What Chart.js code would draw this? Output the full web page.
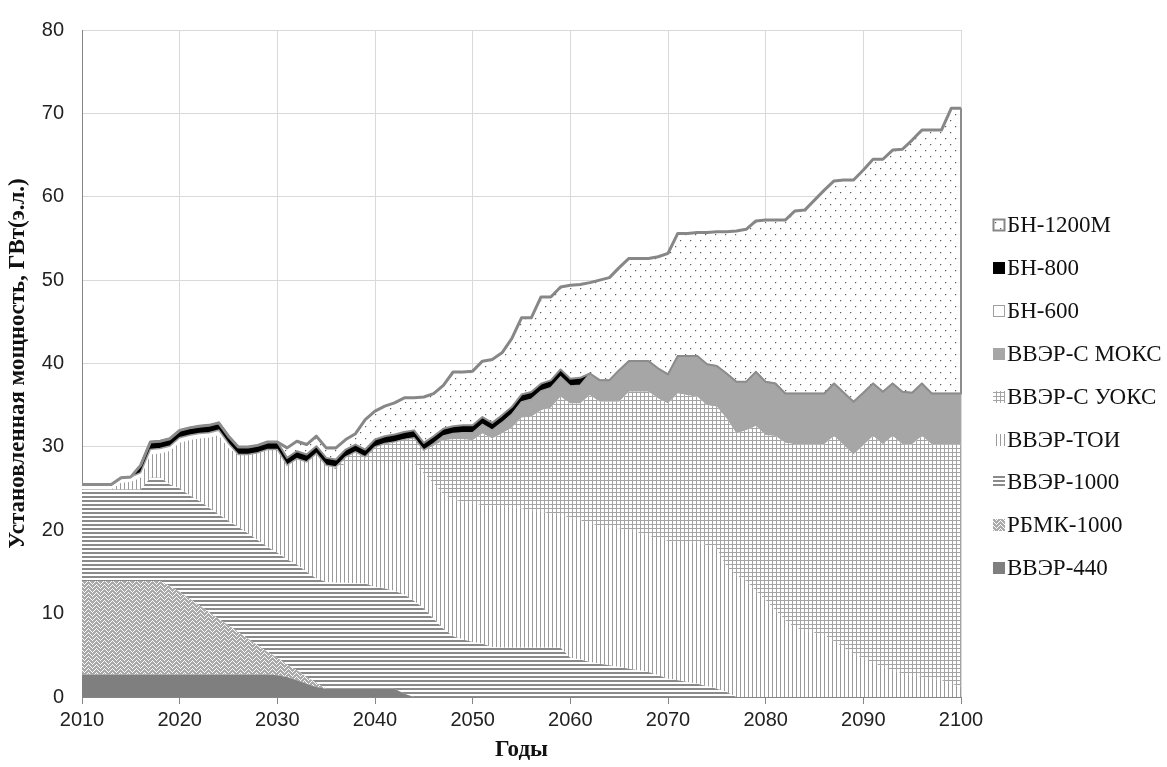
<!DOCTYPE html>
<html lang="ru">
<head>
<meta charset="utf-8">
<title>Установленная мощность АЭС, 2010–2100</title>
<script src="https://cdn.jsdelivr.net/npm/chart.js@4.4.1/dist/chart.umd.min.js"></script>
<style>
  html, body { margin: 0; padding: 0; background: #ffffff; }
  canvas { display: block; }
</style>
</head>
<body>
<canvas id="chart" width="1167" height="767"></canvas>
<script>
// Годы расчётного периода
const years = [
  2010, 2011, 2012, 2013, 2014, 2015, 2016, 2017, 2018, 2019,
  2020, 2021, 2022, 2023, 2024, 2025, 2026, 2027, 2028, 2029,
  2030, 2031, 2032, 2033, 2034, 2035, 2036, 2037, 2038, 2039,
  2040, 2041, 2042, 2043, 2044, 2045, 2046, 2047, 2048, 2049,
  2050, 2051, 2052, 2053, 2054, 2055, 2056, 2057, 2058, 2059,
  2060, 2061, 2062, 2063, 2064, 2065, 2066, 2067, 2068, 2069,
  2070, 2071, 2072, 2073, 2074, 2075, 2076, 2077, 2078, 2079,
  2080, 2081, 2082, 2083, 2084, 2085, 2086, 2087, 2088, 2089,
  2090, 2091, 2092, 2093, 2094, 2095, 2096, 2097, 2098, 2099,
  2100
];

// Установленная мощность по типам реакторов, ГВт(э)
const vver440 = [
  2.7, 2.7, 2.7, 2.7, 2.7, 2.7, 2.7, 2.7, 2.7, 2.7,
  2.7, 2.7, 2.7, 2.7, 2.7, 2.7, 2.7, 2.7, 2.7, 2.7,
  2.6, 2.4, 2.0, 1.6, 1.2, 1.0, 1.0, 1.0, 1.0, 1.0,
  1.0, 1.0, 1.0, 0.4, 0, 0, 0, 0, 0, 0,
  0, 0, 0, 0, 0, 0, 0, 0, 0, 0,
  0, 0, 0, 0, 0, 0, 0, 0, 0, 0,
  0, 0, 0, 0, 0, 0, 0, 0, 0, 0,
  0, 0, 0, 0, 0, 0, 0, 0, 0, 0,
  0, 0, 0, 0, 0, 0, 0, 0, 0, 0,
  0
];
const rbmk1000 = [
  11.2, 11.2, 11.2, 11.2, 11.2, 11.2, 11.2, 11.2, 11.2, 10.6,
  9.9, 9.1, 8.3, 7.5, 6.7, 5.9, 5.1, 4.3, 3.5, 2.7,
  2.1, 1.5, 1.2, 0.8, 0.5, 0, 0, 0, 0, 0,
  0, 0, 0, 0, 0, 0, 0, 0, 0, 0,
  0, 0, 0, 0, 0, 0, 0, 0, 0, 0,
  0, 0, 0, 0, 0, 0, 0, 0, 0, 0,
  0, 0, 0, 0, 0, 0, 0, 0, 0, 0,
  0, 0, 0, 0, 0, 0, 0, 0, 0, 0,
  0, 0, 0, 0, 0, 0, 0, 0, 0, 0,
  0
];
const vver1000 = [
  11.0, 11.0, 11.0, 11.0, 11.0, 11.0, 11.0, 12.4, 12.4, 12.2,
  12.4, 12.4, 12.5, 12.5, 12.5, 12.5, 12.6, 12.6, 12.6, 12.6,
  12.6, 12.6, 12.7, 12.6, 12.5, 12.8, 12.7, 12.7, 12.6, 12.6,
  12.2, 12.0, 11.7, 11.9, 11.5, 10.6, 9.4, 8.2, 7.3, 6.9,
  6.6, 6.4, 6.0, 5.9, 5.9, 5.9, 5.9, 5.9, 5.9, 5.9,
  4.7, 4.5, 4.2, 4.0, 3.8, 3.6, 3.4, 3.2, 3.0, 2.6,
  2.2, 2.0, 1.8, 1.6, 1.3, 1.0, 0.6, 0, 0, 0,
  0, 0, 0, 0, 0, 0, 0, 0, 0, 0,
  0, 0, 0, 0, 0, 0, 0, 0, 0, 0,
  0
];
const vverToi = [
  0, 0, 0, 0, 0.8, 0.9, 1.4, 2.8, 2.9, 4.0,
  5.5, 6.6, 7.5, 8.4, 9.5, 8.7, 8.7, 9.5, 10.5, 11.7,
  12.4, 11.3, 12.7, 13.2, 15.0, 14.0, 13.6, 14.3, 14.6, 14.6,
  15.1, 15.3, 15.6, 15.9, 16.5, 16.2, 16.2, 16.1, 16.4, 16.5,
  16.6, 16.6, 17.0, 17.0, 16.9, 16.7, 16.5, 16.3, 16.1, 15.9,
  16.8, 16.7, 16.6, 16.5, 16.5, 16.6, 16.6, 16.5, 16.3, 16.4,
  16.5, 16.6, 16.8, 16.9, 16.9, 16.8, 15.0, 14.6, 13.9, 12.7,
  11.6, 10.4, 9.2, 8.3, 8.0, 7.7, 7.4, 6.7, 5.9, 5.2,
  4.6, 4.1, 3.6, 3.2, 2.8, 2.6, 2.4, 2.2, 2.0, 1.6,
  1.2
];
const vverUoks = [
  0, 0, 0, 0, 0, 0, 0, 0, 0, 0,
  0, 0, 0, 0, 0, 0, 0, 0, 0, 0,
  0, 0, 0, 0, 0, 0, 0.3, 0.8, 1.2, 0.6,
  1.7, 2.1, 2.3, 2.7, 3.1, 2.8, 4.5, 6.5, 7.2, 7.5,
  7.6, 8.6, 8.0, 8.7, 9.5, 10.9, 11.2, 12.2, 12.7, 14.2,
  13.7, 14.0, 15.4, 14.9, 15.1, 15.2, 16.6, 16.9, 17.3, 16.8,
  16.5, 17.8, 17.6, 17.5, 16.8, 17.0, 17.8, 17.0, 18.1, 19.8,
  19.8, 20.9, 21.3, 22.0, 22.3, 22.6, 22.9, 24.6, 24.3, 23.9,
  25.6, 27.2, 26.7, 28.1, 27.5, 27.7, 28.9, 28.1, 28.3, 28.7,
  29.1
];
const vverMoks = [
  0, 0, 0, 0, 0, 0, 0, 0, 0, 0,
  0, 0, 0, 0, 0, 0, 0, 0, 0, 0,
  0, 0, 0, 0, 0, 0, 0, 0, 0, 0,
  0, 0, 0, 0, 0, 0, 0.3, 0.5, 0.7, 0.8,
  0.9, 1.1, 1.0, 1.3, 1.6, 1.9, 2.1, 2.3, 2.4, 2.4,
  2.1, 2.2, 2.6, 2.6, 2.6, 3.8, 3.7, 3.7, 3.7, 3.6,
  3.5, 4.5, 4.7, 4.9, 4.9, 4.9, 5.4, 6.2, 5.8, 6.5,
  6.4, 6.3, 5.9, 6.1, 6.1, 6.1, 6.1, 6.3, 6.3, 6.3,
  6.3, 6.3, 6.3, 6.3, 6.3, 6.2, 6.3, 6.1, 6.1, 6.1,
  6.1
];
const bn600 = [
  0.6, 0.6, 0.6, 0.6, 0.6, 0.6, 0.6, 0.6, 0.6, 0.6,
  0.6, 0.6, 0.6, 0.6, 0.6, 0.6, 0, 0, 0, 0,
  0, 0, 0, 0, 0, 0, 0, 0, 0, 0,
  0, 0, 0, 0, 0, 0, 0, 0, 0, 0,
  0, 0, 0, 0, 0, 0, 0, 0, 0, 0,
  0, 0, 0, 0, 0, 0, 0, 0, 0, 0,
  0, 0, 0, 0, 0, 0, 0, 0, 0, 0,
  0, 0, 0, 0, 0, 0, 0, 0, 0, 0,
  0, 0, 0, 0, 0, 0, 0, 0, 0, 0,
  0
];
const bn800 = [
  0, 0, 0, 0, 0, 0, 0.88, 0.88, 0.88, 0.88,
  0.88, 0.88, 0.88, 0.88, 0.88, 0.88, 0.88, 0.88, 0.88, 0.88,
  0.88, 0.88, 0.88, 0.88, 0.88, 0.88, 0.88, 0.88, 0.88, 0.88,
  0.88, 0.88, 0.88, 0.88, 0.88, 0.88, 0.88, 0.88, 0.88, 0.88,
  0.88, 0.88, 0.88, 0.88, 0.88, 0.88, 0.88, 0.88, 0.88, 0.88,
  0.88, 0.88, 0, 0, 0, 0, 0, 0, 0, 0,
  0, 0, 0, 0, 0, 0, 0, 0, 0, 0,
  0, 0, 0, 0, 0, 0, 0, 0, 0, 0,
  0, 0, 0, 0, 0, 0, 0, 0, 0, 0,
  0
];
const bn1200m = [
  0, 0, 0, 0, 0, 0, 0, 0, 0, 0,
  0, 0, 0, 0, 0, 0, 0, 0, 0, 0,
  0, 1.2, 1.2, 1.2, 1.2, 1.2, 1.4, 1.2, 1.3, 3.6,
  3.4, 3.6, 3.8, 4.1, 3.9, 5.5, 5.1, 5.2, 6.5, 6.4,
  6.5, 6.7, 7.6, 7.5, 8.2, 9.2, 8.9, 10.4, 10.0, 9.9,
  11.2, 11.2, 10.9, 12.0, 12.3, 12.3, 12.3, 12.3, 12.3, 13.4,
  14.5, 14.7, 14.7, 14.8, 15.8, 16.1, 17.0, 18.1, 18.3, 18.1,
  19.4, 19.6, 20.8, 21.9, 22.0, 23.2, 24.4, 24.3, 25.5, 26.6,
  26.7, 26.9, 27.9, 28.0, 29.1, 30.3, 30.4, 31.6, 31.6, 34.2,
  34.2
];

const yTicks = { min: 0, max: 80, step: 10 };
const xTicks = { min: 2010, max: 2100, step: 10 };

// ---- штриховки (заливки узором) ----
const ctxMain = document.getElementById('chart').getContext('2d');
function tile(w, h, paint) {
  const c = document.createElement('canvas');
  c.width = w; c.height = h;
  const g = c.getContext('2d');
  g.fillStyle = '#ffffff';
  g.fillRect(0, 0, w, h);
  paint(g);
  return ctxMain.createPattern(c, 'repeat');
}
function dot(g, x, y, col) { g.fillStyle = col; g.fillRect(x, y, 1, 1); }

const patHoriz = tile(4, 4, g => { g.fillStyle = '#8a8a8a'; g.fillRect(0, 0, 4, 2); });
const patVert  = tile(4, 4, g => { g.fillStyle = '#9a9a9a'; g.fillRect(0, 0, 1, 4); });
const patGrid  = tile(4, 4, g => {
  g.fillStyle = '#a4a4a4';
  g.fillRect(0, 0, 4, 1);
  g.fillRect(0, 0, 1, 4);
});
const patDots  = tile(10, 12, g => {
  dot(g, 0, 0, '#5c5c5c'); dot(g, 1, 0, '#d6d6d6'); dot(g, 0, 1, '#d6d6d6');
  dot(g, 5, 6, '#5c5c5c'); dot(g, 6, 6, '#d6d6d6'); dot(g, 5, 7, '#d6d6d6');
});
const patZig   = tile(8, 8, g => {
  for (let x = 0; x < 8; x++) {
    const t = x < 4 ? x : 8 - x;
    for (let y = 0; y < 8; y++) {
      if ((((y - t) % 4) + 4) % 4 !== 0) dot(g, x, y, '#a9a9a9');
    }
  }
});

function band(label, data, background, extra) {
  return Object.assign({
    label, data,
    backgroundColor: background,
    borderWidth: 0,
    fill: '-1',
    pointRadius: 0,
    tension: 0
  }, extra || {});
}

const datasets = [
  band('ВВЭР-440', vver440, '#7f7f7f', { fill: 'origin' }),
  band('РБМК-1000', rbmk1000, patZig),
  band('ВВЭР-1000', vver1000, patHoriz),
  band('ВВЭР-ТОИ', vverToi, patVert),
  band('ВВЭР-С УОКС', vverUoks, patGrid),
  band('ВВЭР-С МОКС', vverMoks, '#a6a6a6'),
  band('БН-600', bn600, '#ffffff', { borderColor: '#a0a0a0', borderWidth: 1.5 }),
  band('БН-800', bn800, '#000000'),
  band('БН-1200М', bn1200m, patDots, { borderColor: '#878787', borderWidth: 3, borderJoinStyle: 'round' })
];

// Контур верхней области (БН-1200М): нижняя граница и правый край
const topBandOutline = {
  id: 'topBandOutline',
  afterDatasetsDraw(chart) {
    const n = chart.data.datasets.length;
    const top = chart.getDatasetMeta(n - 1).data;
    const below = chart.getDatasetMeta(n - 2).data;
    const ctx = chart.ctx;
    const area = chart.chartArea;
    ctx.save();
    ctx.beginPath();
    ctx.rect(area.left - 2, area.top - 2, area.right - area.left + 4, area.bottom - area.top + 4);
    ctx.clip();
    ctx.beginPath();
    ctx.moveTo(top[top.length - 1].x, top[top.length - 1].y);
    for (let i = below.length - 1; i >= 0; i--) ctx.lineTo(below[i].x, below[i].y);
    ctx.strokeStyle = '#8c8c8c';
    ctx.lineWidth = 2;
    ctx.lineJoin = 'round';
    ctx.stroke();
    ctx.restore();
  }
};

// Легенда справа: ряды в обратном порядке
const sideLegend = {
  id: 'sideLegend',
  afterDraw(chart) {
    const ctx = chart.ctx;
    const list = chart.data.datasets.slice().reverse();
    ctx.save();
    ctx.font = '23px "Liberation Serif"';
    ctx.textBaseline = 'middle';
    ctx.textAlign = 'left';
    list.forEach((d, i) => {
      const cy = 225 + i * 42.9;
      const bx = 993, by = Math.round(cy - 6), s = 12;
      ctx.fillStyle = d.backgroundColor;
      ctx.fillRect(bx, by, s, s);
      if (d.borderWidth) {
        ctx.strokeStyle = d.borderColor;
        ctx.lineWidth = d.borderWidth > 2 ? 2 : 1;
        ctx.strokeRect(bx + 0.5, by + 0.5, s - 1, s - 1);
      }
      ctx.fillStyle = '#111111';
      ctx.fillText(d.label, 1007, cy + 1);
    });
    ctx.restore();
  }
};

const tickFont = { family: '"Liberation Sans", Arial, sans-serif', size: 20 };
const titleFont = { family: '"Liberation Serif", "Times New Roman", serif', size: 23, weight: 'bold' };

new Chart(ctxMain, {
  type: 'line',
  data: { labels: years, datasets },
  options: {
    responsive: false,
    animation: false,
    layout: { padding: { left: 0, right: 206, top: 22, bottom: 0 } },
    plugins: {
      legend: { display: false },
      tooltip: { enabled: false },
      filler: { drawTime: 'beforeDatasetsDraw', propagate: false }
    },
    scales: {
      x: {
        type: 'linear',
        min: xTicks.min, max: xTicks.max,
        ticks: { stepSize: xTicks.step, callback: v => String(v), font: tickFont, color: '#222222', padding: 4, maxRotation: 0 },
        grid: { color: '#d9d9d9', tickColor: '#868686', tickLength: 7 },
        border: { color: '#868686' },
        title: { display: true, text: 'Годы', font: titleFont, color: '#111111', padding: { top: 2, bottom: 3 } },
        afterFit: s => { s.height = 70; }
      },
      y: {
        stacked: true,
        min: yTicks.min, max: yTicks.max,
        ticks: { stepSize: yTicks.step, font: tickFont, color: '#222222', padding: 18 },
        grid: { color: '#d9d9d9', drawTicks: false },
        border: { color: '#868686' },
        title: { display: true, text: 'Установленная мощность, ГВт(э.л.)', font: titleFont, color: '#111111', padding: { top: 4, bottom: 0 } },
        afterFit: s => { s.width = 82; }
      }
    }
  },
  plugins: [topBandOutline, sideLegend]
});
</script>
</body>
</html>
